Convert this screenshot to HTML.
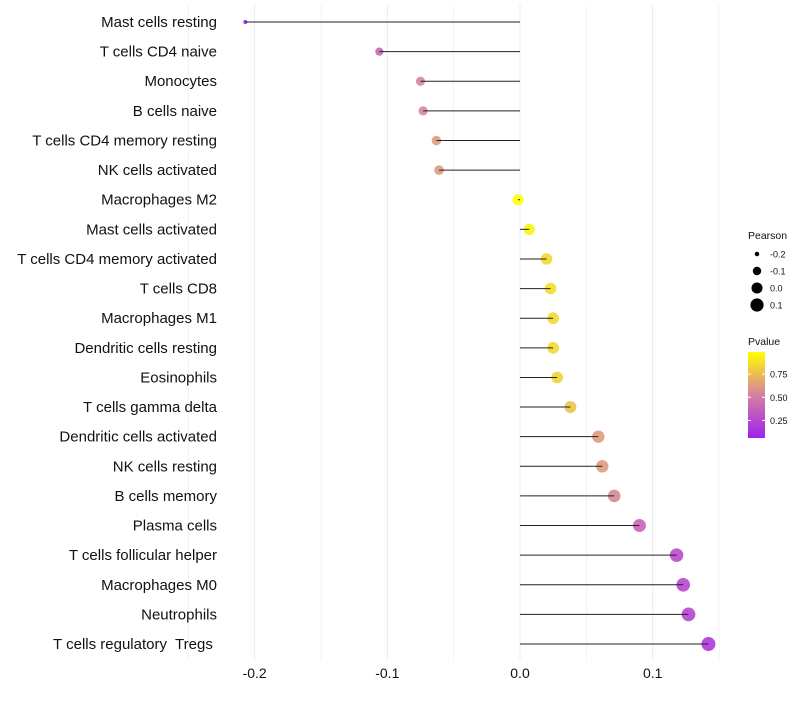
<!DOCTYPE html>
<html><head><meta charset="utf-8"><style>
body{margin:0;background:#fff;font-family:"Liberation Sans",sans-serif}
text{white-space:pre}
</style></head><body>
<svg id="c" width="800" height="700" xmlns="http://www.w3.org/2000/svg"></svg>
<script>
const categories=["Mast cells resting","T cells CD4 naive","Monocytes","B cells naive","T cells CD4 memory resting","NK cells activated","Macrophages M2","Mast cells activated","T cells CD4 memory activated","T cells CD8","Macrophages M1","Dendritic cells resting","Eosinophils","T cells gamma delta","Dendritic cells activated","NK cells resting","B cells memory","Plasma cells","T cells follicular helper","Macrophages M0","Neutrophils","T cells regulatory  Tregs "];
const pearson=[-0.207,-0.106,-0.075,-0.073,-0.063,-0.061,-0.0015,0.007,0.020,0.023,0.025,0.025,0.028,0.038,0.059,0.062,0.071,0.090,0.118,0.123,0.127,0.142];
const pvalue=[0.05,0.4,0.55,0.55,0.62,0.62,0.99,0.95,0.85,0.87,0.85,0.85,0.83,0.77,0.62,0.62,0.55,0.4,0.28,0.25,0.24,0.17];
const xTicks=[-0.2,-0.1,0.0,0.1];
const xTickLabels=["-0.2","-0.1","0.0","0.1"];
const sizeLegend=[-0.2,-0.1,0.0,0.1];
const pTicks=[0.25,0.5,0.75];

const svg=document.getElementById('c');
const NS="http://www.w3.org/2000/svg";
function el(t,a,p){const e=document.createElementNS(NS,t);for(const k in a)e.setAttribute(k,a[k]);(p||svg).appendChild(e);return e;}
const X=v=>520+v*1327;
const Y=i=>22+i*29.62;
const R=v=>Math.sqrt(Math.max(1,4+(v+0.207)/0.349*45));
const pMin=0.06,pMax=0.99;
function col(p){let t=(p-pMin)/(pMax-pMin);t=Math.max(0,Math.min(1,t));
 const a=[160,32,240],m=[214,128,160],b=[255,255,0];
 let c=t<0.5?a.map((v,i)=>v+(m[i]-v)*t*2):m.map((v,i)=>v+(b[i]-v)*(t-0.5)*2);
 return `rgb(${c.map(Math.round).join(',')})`;}

// grid
for(let v=-0.25;v<=0.151;v+=0.05){const g=el('line',{x1:X(v),x2:X(v),y1:5,y2:660,stroke:'#ebebeb','stroke-width':Math.abs(Math.round(v*20))%2===0?1:0.6});
}
xTicks.forEach((v,i)=>{const t=el('text',{x:X(v),y:678,'text-anchor':'middle','font-size':14,fill:'#111'});t.textContent=xTickLabels[i];
});

categories.forEach((c,i)=>{
 const y=Y(i);
 const lb=el('text',{x:217,y:y+5,'text-anchor':'end','font-size':15,fill:'#111'});lb.textContent=c;
 
 const d=el('circle',{cx:X(pearson[i]),cy:y,r:R(pearson[i]),fill:col(pvalue[i]),'fill-opacity':0.9});
 
 const ln=el('line',{x1:X(0),x2:X(pearson[i]),y1:y,y2:y,stroke:'#222','stroke-width':1});
 
});

// size legend
const lt=el('text',{x:748,y:239,'font-size':10.5,fill:'#111'});lt.textContent='Pearson';

sizeLegend.forEach((v,i)=>{const y=254+i*17;
 const c=el('circle',{cx:757,cy:y,r:R(v),fill:'#000'});
 const t=el('text',{x:770,y:y+3.5,'font-size':9,fill:'#111'});t.textContent=v.toFixed(1);
 });

// color legend
const ct=el('text',{x:748,y:345,'font-size':10.5,fill:'#111'});ct.textContent='Pvalue';

const defs=el('defs',{});const lg=el('linearGradient',{id:'g',x1:0,y1:1,x2:0,y2:0},defs);
for(let k=0;k<=10;k++){const p=pMin+(pMax-pMin)*k/10;el('stop',{offset:k/10,'stop-color':col(p)},lg);}
const bar=el('rect',{x:748,y:352,width:17,height:86,fill:'url(#g)'});

const PY=p=>438-(p-pMin)/(pMax-pMin)*86;
pTicks.forEach(p=>{const y=PY(p);
 el('line',{x1:748,x2:751,y1:y,y2:y,stroke:'#fff'});el('line',{x1:762,x2:765,y1:y,y2:y,stroke:'#fff'});
 const t=el('text',{x:770,y:y+3.5,'font-size':9,fill:'#111'});t.textContent=p.toFixed(2);
 });
</script>
</body></html>
